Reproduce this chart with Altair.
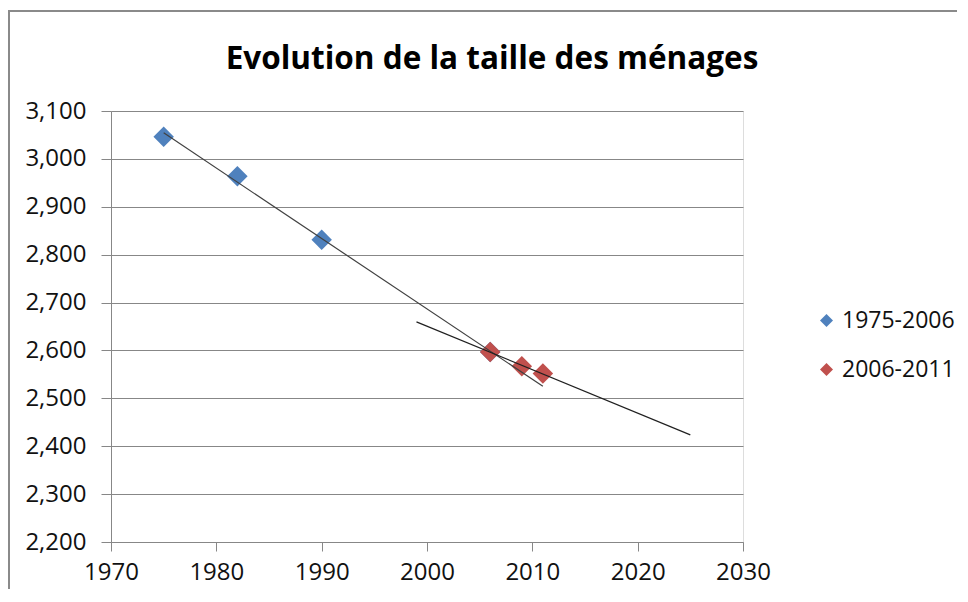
import altair as alt
import pandas as pd

# Data
years_a = [1975, 1982, 1990, 2006]
sizes_a = [3046, 2964, 2831, 2597]
years_b = [2006, 2009, 2011]
sizes_b = [2597, 2567, 2552]
series_names = ["1975-2006", "2006-2011"]
series_colors = ["#4F81BD", "#C0504D"]
trend_extent_a = [1975, 2011]
trend_extent_b = [1999, 2025]
x_ticks = [1970, 1980, 1990, 2000, 2010, 2020, 2030]
y_ticks = [2200, 2300, 2400, 2500, 2600, 2700, 2800, 2900, 3000, 3100]
title_text = ["Evolution de la taille des ménages"]

df = pd.DataFrame({
    "annee": years_a + years_b,
    "taille": sizes_a + sizes_b,
    "serie": [series_names[0]] * len(years_a) + [series_names[1]] * len(years_b),
})

FONT = "Open Sans"
GRID = "#878787"

x_enc = alt.X("annee:Q", scale=alt.Scale(domain=[1970, 2030], nice=False, zero=False),
              axis=alt.Axis(values=x_ticks, format="d", title=None, grid=False,
                            domainColor=GRID, tickColor=GRID, tickSize=9,
                            labelFontSize=24, labelFont=FONT, labelColor="#111",
                            labelPadding=9, labelFlush=False))
y_enc = alt.Y("taille:Q", scale=alt.Scale(domain=[2200, 3100], nice=False, zero=False),
              axis=alt.Axis(values=y_ticks, format=",.0f", title=None, grid=True,
                            gridColor=GRID, domainColor=GRID, tickColor=GRID, tickSize=10,
                            labelFontSize=24, labelFont=FONT, labelColor="#111",
                            labelPadding=15, labelFlush=False))

color_enc = alt.Color("serie:N",
                      scale=alt.Scale(domain=series_names, range=series_colors),
                      legend=alt.Legend(title=None, orient="none", legendX=704, legendY=198,
                                        symbolType="diamond", symbolSize=170,
                                        symbolStrokeWidth=0, labelFontSize=23,
                                        labelFont=FONT, labelColor="#111",
                                        rowPadding=25, labelOffset=4))

base = alt.Chart(df)

points = base.mark_point(shape="diamond", filled=True, size=420, opacity=1).encode(
    x=x_enc, y=y_enc, color=color_enc)

trend_a = base.transform_filter(alt.datum.serie == series_names[0]).transform_regression(
    "annee", "taille", extent=trend_extent_a).mark_line(color="#404040", strokeWidth=1.2).encode(
    x="annee:Q", y="taille:Q")
trend_b = base.transform_filter(alt.datum.serie == series_names[1]).transform_regression(
    "annee", "taille", extent=trend_extent_b).mark_line(color="#202020", strokeWidth=1.2).encode(
    x="annee:Q", y="taille:Q")

# chart frame (decorative border, partly outside the page like the reference)
frame_left = alt.Chart(df).mark_rule(color="#8a8a8a", strokeWidth=2).encode(
    x=alt.value(-102), y=alt.value(-100), y2=alt.value(500))
frame_top = alt.Chart(df).mark_rule(color="#8a8a8a", strokeWidth=2).encode(
    x=alt.value(-103), x2=alt.value(900), y=alt.value(-100))

title = alt.Chart(pd.DataFrame({"t": title_text})).mark_text(
    font=FONT, fontSize=31.5, fontWeight="bold", color="#000", align="center",
    baseline="alphabetic").encode(text="t:N", x=alt.value(381), y=alt.value(-42))

chart = alt.layer(frame_left, frame_top, title, points, trend_a, trend_b).properties(
    width=632, height=431,
    padding={"left": 103, "top": 103, "right": 214, "bottom": 47},
    autosize=alt.AutoSizeParams(type="none"),
).configure_view(stroke=None).configure(background="white")

chart.save("out.html", embed_options={"renderer": "svg", "actions": False})
